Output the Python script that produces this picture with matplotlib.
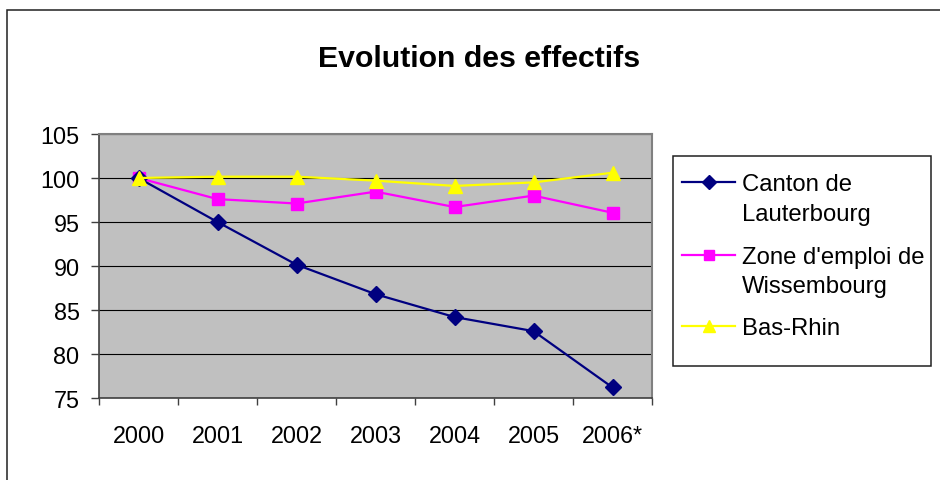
import matplotlib
matplotlib.use("Agg")
import matplotlib.pyplot as plt
from matplotlib.patches import Rectangle
from matplotlib.lines import Line2D

years = ['2000', '2001', '2002', '2003', '2004', '2005', '2006*']
canton = [100.0, 95.0, 90.15, 86.8, 84.2, 82.6, 76.2]
zone = [100.0, 97.6, 97.1, 98.45, 96.7, 98.0, 96.05]
basrhin = [100.0, 100.15, 100.15, 99.7, 99.1, 99.5, 100.6]

labels = ['Canton de\nLauterbourg', "Zone d'emploi de\nWissembourg", 'Bas-Rhin']
colors = ['#000080', '#ff00ff', '#ffff00']
markers = ['D', 's', '^']
msizes = [8, 8.5, 10]

plt.rcParams['font.family'] = ['Liberation Sans', 'DejaVu Sans']

W, H = 940, 481
fig = plt.figure(figsize=(W / 100, H / 100), dpi=100)

def fx(px): return px / W
def fy(py): return 1 - py / H

# outer chart frame (right/bottom edges run off the image)
fig.patches.append(Rectangle((fx(6.5), -0.1), 1.2, 1.1 - 10.5 / H, transform=fig.transFigure,
                             fill=False, edgecolor='#202020', linewidth=1.1, zorder=0))

ax = fig.add_axes([fx(99), fy(399), (652 - 99) / W, (399 - 135) / H])
ax.set_facecolor('#c0c0c0')

x = range(len(years))
series = [canton, zone, basrhin]
zorders = [5, 4, 6]
for vals, c, m, ms, z in zip(series, colors, markers, msizes, zorders):
    ax.plot(x, vals, color=c, marker=m, markersize=ms, linewidth=1.6, zorder=z)

ax.set_xlim(-0.5, len(years) - 0.5)
ax.set_ylim(75, 105)
ax.set_yticks(range(75, 106, 5))
ax.yaxis.grid(True, color='black', linewidth=0.8)
ax.set_axisbelow(True)

ax.set_xticks(list(x))
ax.set_xticklabels(years)
ax.set_xticks([i - 0.5 for i in range(len(years) + 1)], minor=True)
ax.tick_params(axis='x', which='major', length=0, pad=19, labelsize=16.8)
ax.tick_params(axis='x', which='minor', length=5, width=1, color='#404040', direction='out')
ax.tick_params(axis='y', length=6, width=1, color='#404040', pad=8, labelsize=16.8)

for side in ['top', 'right']:
    ax.spines[side].set_color('#808080')
    ax.spines[side].set_linewidth(1.5)
for side in ['left', 'bottom']:
    ax.spines[side].set_color('#404040')
    ax.spines[side].set_linewidth(1.2)

fig.text(fx(479), fy(66.7), 'Evolution des effectifs', ha='center', va='baseline',
         fontsize=21.8, fontweight='bold')

# legend, laid out by hand to match the Excel box
fig.patches.append(Rectangle((fx(673), fy(367)), (931 - 673) / W, (367 - 157) / H,
                             transform=fig.transFigure, fill=False, edgecolor='#202020', linewidth=1.1))
entry_y = [182.5, 255.5, 326.5]
for lab, c, m, ms, yy in zip(labels, colors, markers, msizes, entry_y):
    fig.add_artist(Line2D([fx(682), fx(735)], [fy(yy), fy(yy)], color=c, linewidth=1.6,
                          transform=fig.transFigure))
    fig.add_artist(Line2D([fx(708.5)], [fy(yy)], color=c, marker=m, markersize=ms * 0.85,
                          linestyle='none', transform=fig.transFigure))
    for k, line in enumerate(lab.split('\n')):
        fig.text(fx(741.5), fy(yy + k * 29.5), line, ha='left', va='center_baseline', fontsize=17.2)

fig.savefig('out.png', dpi=100, facecolor='white')
